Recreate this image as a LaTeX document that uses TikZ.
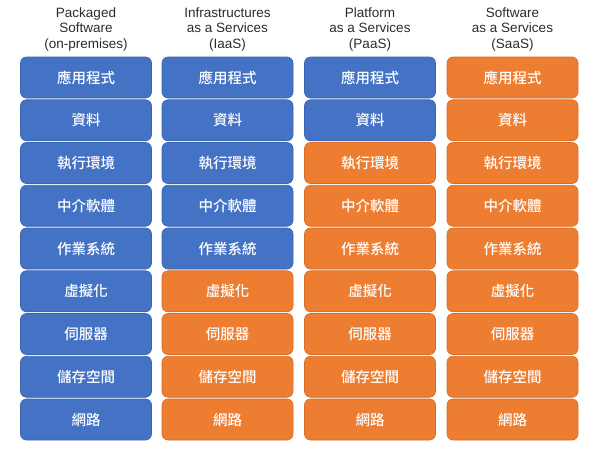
\documentclass[tikz,border=0pt]{standalone}
\usepackage{fontspec}
\setmainfont{Liberation Sans}
\newfontfamily\cjk{Noto Sans CJK TC Medium}
\definecolor{bluebox}{HTML}{4472C4}
\definecolor{blueline}{HTML}{3A64AE}
\definecolor{orangebox}{HTML}{ED7D31}
\definecolor{orangeline}{HTML}{D66C25}
\definecolor{headtext}{HTML}{2B2B2B}
\begin{document}
\begin{tikzpicture}[x=1pt,y=-1pt,
  layer/.style={rounded corners=6pt, line width=0.6pt, minimum width=131pt, minimum height=41pt,
    inner sep=0pt, text=white, font=\cjk\fontsize{14.5}{16}\selectfont},
  bl/.style={layer, fill=bluebox, draw=blueline},
  og/.style={layer, fill=orangebox, draw=orangeline},
  head/.style={align=center, text=headtext, font=\fontsize{13.5}{15.5}\selectfont, inner sep=0pt}]
\useasboundingbox (0,0) rectangle (600,450);
\def\labels{{"應用程式","資料","執行環境","中介軟體","作業系統","虛擬化","伺服器","儲存空間","網路"}}
% header
\node[head] (h1) at (86,29.5) {Packaged\\Software\\(on-premises)};
\node[head] (h2) at (227.5,29.5) {Infrastructures\\as a Services\\(IaaS)};
\node[head] (h3) at (370,29.5) {Platform\\as a Services\\(PaaS)};
\node[head] (h4) at (512.5,29.5) {Software\\as a Services\\(SaaS)};
% columns: x centre, number of blue rows
\foreach \c/\x/\nb in {1/86/9, 2/227.5/5, 3/370/2, 4/512.5/0}{
  \foreach \r in {0,...,8}{
    \pgfmathsetmacro{\yy}{77.5+42.75*\r}
    \pgfmathparse{\labels[\r]}\let\lab\pgfmathresult
    \ifnum\r<\nb
      \node[bl] (b\c-\r) at (\x,\yy) {\lab};
    \else
      \node[og] (b\c-\r) at (\x,\yy) {\lab};
    \fi
  }
}
\end{tikzpicture}
\end{document}
